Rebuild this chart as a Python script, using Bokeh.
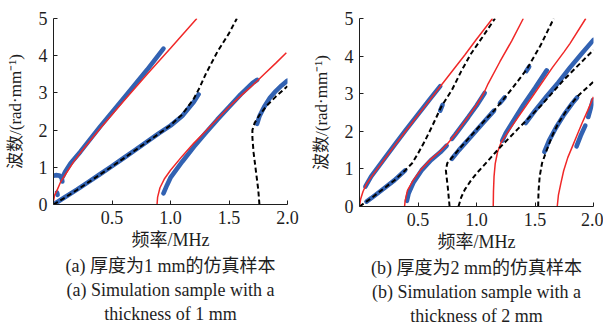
from bokeh.plotting import figure
from bokeh.layouts import row
from bokeh.models import Range1d, FixedTicker, NumeralTickFormatter, Title
from bokeh.embed import file_html
from bokeh.resources import INLINE

# ---------------- data: panel (a), thickness 1 mm ----------------
a_red1_x = [0.0, 0.01, 0.03, 0.06, 0.10, 0.17, 0.245, 0.40, 0.60, 0.80, 1.00, 1.225]
a_red1_y = [0.10, 0.25, 0.38, 0.60, 0.80, 1.14, 1.45, 2.05, 2.78, 3.50, 4.20, 5.00]
a_red2_x = [0.885, 0.89, 0.91, 0.95, 1.00, 1.10, 1.20, 1.30, 1.40, 1.50, 1.60, 1.70, 1.80, 1.90, 1.99]
a_red2_y = [0.00, 0.20, 0.45, 0.70, 0.92, 1.30, 1.65, 1.97, 2.30, 2.62, 2.92, 3.20, 3.50, 3.80, 4.08]
a_dash1_x = [0.0, 0.1, 0.2, 0.3, 0.4, 0.5, 0.6, 0.7, 0.8, 0.9, 1.0, 1.1, 1.2, 1.25, 1.3, 1.4, 1.5, 1.567]
a_dash1_y = [0.0, 0.19, 0.39, 0.60, 0.81, 1.02, 1.24, 1.46, 1.68, 1.90, 2.13, 2.42, 2.85, 3.15, 3.50, 4.10, 4.60, 5.00]
a_dash2_x = [1.76, 1.75, 1.73, 1.71, 1.70, 1.70, 1.72, 1.76, 1.82, 1.90, 2.00]
a_dash2_y = [0.0, 0.4, 0.9, 1.4, 1.8, 2.0, 2.2, 2.4, 2.65, 2.9, 3.18]
a_blue1_x = [0.08, 0.10, 0.145, 0.23, 0.40, 0.60, 0.80, 0.94]
a_blue1_y = [0.75, 0.88, 1.10, 1.42, 2.10, 2.86, 3.62, 4.19]
a_blue_bit_x = [0.0, 0.02, 0.05, 0.07, 0.075]
a_blue_bit_y = [0.77, 0.79, 0.78, 0.72, 0.62]
a_blue_dot_x = [0.03, 0.035]
a_blue_dot_y = [0.32, 0.26]
a_blue2_x = [0.02, 0.1, 0.2, 0.3, 0.4, 0.5, 0.6, 0.7, 0.8, 0.9, 1.0, 1.1, 1.2, 1.24]
a_blue2_y = [0.04, 0.20, 0.40, 0.61, 0.82, 1.03, 1.25, 1.47, 1.69, 1.91, 2.12, 2.38, 2.76, 2.96]
a_blue3_x = [0.94, 0.97, 1.00, 1.10, 1.20, 1.30, 1.40, 1.50, 1.60, 1.70, 1.74]
a_blue3_y = [0.30, 0.52, 0.72, 1.15, 1.55, 1.92, 2.28, 2.62, 2.96, 3.26, 3.35]
a_blue4_x = [1.74, 1.76, 1.80, 1.85, 1.90, 1.95, 2.00]
a_blue4_y = [2.17, 2.37, 2.62, 2.87, 3.05, 3.20, 3.33]

# ---------------- data: panel (b), thickness 2 mm ----------------
b_red1_x = [0.0, 0.01, 0.03, 0.06, 0.10, 0.20, 0.30, 0.40, 0.50, 0.60, 0.70, 0.80, 0.90, 1.00, 1.137]
b_red1_y = [0.0, 0.20, 0.40, 0.60, 0.78, 1.20, 1.62, 2.03, 2.43, 2.83, 3.23, 3.63, 4.03, 4.45, 5.00]
b_red2_x = [0.385, 0.39, 0.41, 0.46, 0.53, 0.61, 0.69, 0.75, 0.82, 0.93, 1.00, 1.06, 1.10, 1.20, 1.30, 1.40]
b_red2_y = [0.0, 0.15, 0.43, 0.70, 1.00, 1.26, 1.47, 1.66, 1.92, 2.39, 2.70, 3.00, 3.27, 3.85, 4.40, 5.00]
b_red3_x = [1.143, 1.145, 1.15, 1.16, 1.18, 1.21, 1.26, 1.35, 1.45, 1.55, 1.65, 1.75, 1.80, 1.934]
b_red3_y = [0.0, 0.40, 0.80, 1.14, 1.45, 1.70, 1.94, 2.35, 2.80, 3.25, 3.70, 4.12, 4.34, 5.00]
b_red4_x = [1.69, 1.70, 1.72, 1.745, 1.78, 1.82, 1.86, 1.90, 1.95, 2.00]
b_red4_y = [0.0, 0.30, 0.60, 0.95, 1.30, 1.60, 1.90, 2.20, 2.55, 2.92]
b_dash1_x = [0.0, 0.1, 0.2, 0.3, 0.39, 0.45, 0.50, 0.56, 0.62, 0.70, 0.79, 0.87, 0.95, 1.05, 1.158]
b_dash1_y = [0.0, 0.22, 0.46, 0.70, 0.96, 1.15, 1.41, 1.75, 2.13, 2.66, 3.10, 3.60, 4.05, 4.50, 5.00]
b_dash2_x = [0.77, 0.755, 0.738, 0.75, 0.79, 0.85, 0.95, 1.05, 1.15, 1.23, 1.30, 1.43, 1.55, 1.66]
b_dash2_y = [0.0, 0.50, 0.96, 1.15, 1.30, 1.52, 1.87, 2.22, 2.55, 2.85, 3.12, 3.65, 4.30, 5.00]
b_dash3_x = [0.846, 0.87, 0.90, 0.95, 1.00, 1.10, 1.20, 1.35, 1.55, 1.75, 1.97, 2.00]
b_dash3_y = [0.0, 0.25, 0.45, 0.68, 0.88, 1.22, 1.57, 2.05, 2.68, 3.38, 4.07, 4.16]
b_dash4_x = [1.527, 1.53, 1.54, 1.56, 1.60, 1.65, 1.70, 1.78, 1.86, 1.93, 2.00]
b_dash4_y = [0.0, 0.40, 0.80, 1.15, 1.50, 1.90, 2.22, 2.60, 2.92, 3.12, 3.32]
b_blue_r1_x = [0.05, 0.10, 0.20, 0.30, 0.40, 0.50, 0.60, 0.69]
b_blue_r1_y = [0.53, 0.80, 1.22, 1.64, 2.05, 2.45, 2.85, 3.20]
b_blue_d1a_x = [0.06, 0.10, 0.20, 0.30, 0.39]
b_blue_d1a_y = [0.13, 0.22, 0.46, 0.70, 0.96]
b_blue_d1b_x = [0.69, 0.71]
b_blue_d1b_y = [2.55, 2.70]
b_blue_r2a_x = [0.405, 0.42, 0.46, 0.53, 0.61, 0.69, 0.745]
b_blue_r2a_y = [0.15, 0.35, 0.63, 0.96, 1.23, 1.44, 1.62]
b_blue_r2b_x = [0.79, 0.82, 0.93, 1.00, 1.07]
b_blue_r2b_y = [1.80, 1.92, 2.38, 2.68, 3.02]
b_blue_d2a_x = [0.79, 0.85, 0.95, 1.05, 1.15]
b_blue_d2a_y = [1.27, 1.50, 1.85, 2.20, 2.55]
b_blue_d2b_x = [1.20, 1.24]
b_blue_d2b_y = [2.75, 2.90]
b_blue_d2c_x = [1.425, 1.45]
b_blue_d2c_y = [3.60, 3.72]
b_blue_r3_x = [1.22, 1.25, 1.30, 1.40, 1.50, 1.60]
b_blue_r3_y = [1.75, 1.95, 2.20, 2.70, 3.15, 3.62]
b_blue_d3_x = [1.42, 1.50, 1.60, 1.70, 1.80, 1.90, 2.00]
b_blue_d3_y = [2.22, 2.55, 2.93, 3.30, 3.70, 4.07, 4.43]
b_blue_d4_x = [1.58, 1.62, 1.68, 1.75, 1.82, 1.86]
b_blue_d4_y = [1.45, 1.75, 2.10, 2.45, 2.75, 2.90]
b_blue_r4a_x = [1.855, 1.89, 1.93]
b_blue_r4a_y = [1.60, 1.88, 2.15]
b_blue_r4b_x = [1.955, 1.975, 1.995]
b_blue_r4b_y = [2.38, 2.60, 2.83]

x_ticks = [0.5, 1.0, 1.5, 2.0]
y_ticks = [0, 1, 2, 3, 4, 5]
x_label = "频率/MHz"
y_label = "波数/(rad·mm⁻¹)"
captions_a = ["(a) 厚度为1 mm的仿真样本", "(a) Simulation sample with a", "thickness of 1 mm"]
captions_b = ["(b) 厚度为2 mm的仿真样本", "(b) Simulation sample with a", "thickness of 2 mm"]

FONT = "'Liberation Serif', 'Noto Sans CJK SC', serif"
NUM_FONT = "Liberation Serif"
RED = "#f02828"
BLUE = "#3262b2"
BLACK = "#000000"
TXT = "#1e1e1e"
H = 326


def make_panel(blues, reds, dashes, captions, left, right, top, fh):
    p = figure(frame_width=234, frame_height=fh,
               min_border_left=left, min_border_right=right,
               min_border_top=top, min_border_bottom=H - top - fh,
               x_range=Range1d(0, 2.0), y_range=Range1d(0, 5),
               output_backend="svg", toolbar_location=None,
               background_fill_color="white", border_fill_color="white")
    p.outline_line_color = None
    p.grid.visible = False
    for bx, by in blues:
        p.line(bx, by, line_color=BLUE, line_width=4.6, line_cap="round")
    for rx, ry in reds:
        p.line(rx, ry, line_color=RED, line_width=1.5)
    for dx, dy in dashes:
        p.line(dx, dy, line_color=BLACK, line_width=2, line_dash="5 3")
    p.xaxis.ticker = FixedTicker(ticks=x_ticks)
    p.xaxis.formatter = NumeralTickFormatter(format="0.0")
    p.yaxis.ticker = FixedTicker(ticks=y_ticks)
    for ax in (p.xaxis, p.yaxis):
        ax.axis_line_color = TXT
        ax.axis_line_width = 1
        ax.major_tick_in = 4
        ax.major_tick_out = 0
        ax.major_tick_line_color = TXT
        ax.minor_tick_line_color = None
        ax.major_label_text_font = NUM_FONT
        ax.major_label_text_font_size = "18px"
        ax.major_label_text_color = TXT
        ax.axis_label_text_font = FONT
        ax.axis_label_text_font_style = "normal"
        ax.axis_label_text_color = TXT
    p.xaxis.axis_label = x_label
    p.xaxis.axis_label_text_font_size = "18px"
    p.xaxis.major_label_standoff = 6
    p.xaxis.axis_label_standoff = 3
    p.yaxis.axis_label = y_label
    p.yaxis.axis_label_text_font_size = "17px"
    p.yaxis.major_label_standoff = 6
    p.yaxis.axis_label_standoff = 11
    for c in captions:
        t = Title(text=c, align="center", text_font=FONT, text_font_size="18px",
                  text_font_style="normal", text_color=TXT, standoff=2)
        p.add_layout(t, "below")
    return p


pa = make_panel(
    blues=[(a_blue1_x, a_blue1_y), (a_blue_bit_x, a_blue_bit_y), (a_blue_dot_x, a_blue_dot_y),
           (a_blue2_x, a_blue2_y), (a_blue3_x, a_blue3_y), (a_blue4_x, a_blue4_y)],
    reds=[(a_red1_x, a_red1_y), (a_red2_x, a_red2_y)],
    dashes=[(a_dash1_x, a_dash1_y), (a_dash2_x, a_dash2_y)],
    captions=captions_a, left=53, right=13, top=18, fh=186)

pb = make_panel(
    blues=[(b_blue_r1_x, b_blue_r1_y), (b_blue_d1a_x, b_blue_d1a_y), (b_blue_d1b_x, b_blue_d1b_y),
           (b_blue_r2a_x, b_blue_r2a_y), (b_blue_r2b_x, b_blue_r2b_y), (b_blue_d2a_x, b_blue_d2a_y),
           (b_blue_d2b_x, b_blue_d2b_y), (b_blue_d2c_x, b_blue_d2c_y), (b_blue_r3_x, b_blue_r3_y),
           (b_blue_d3_x, b_blue_d3_y), (b_blue_d4_x, b_blue_d4_y), (b_blue_r4a_x, b_blue_r4a_y),
           (b_blue_r4b_x, b_blue_r4b_y)],
    reds=[(b_red1_x, b_red1_y), (b_red2_x, b_red2_y), (b_red3_x, b_red3_y), (b_red4_x, b_red4_y)],
    dashes=[(b_dash1_x, b_dash1_y), (b_dash2_x, b_dash2_y), (b_dash3_x, b_dash3_y), (b_dash4_x, b_dash4_y)],
    captions=captions_b, left=59, right=10, top=15, fh=188)

layout = row(pa, pb)
open("out.html", "w").write(file_html(layout, INLINE))
